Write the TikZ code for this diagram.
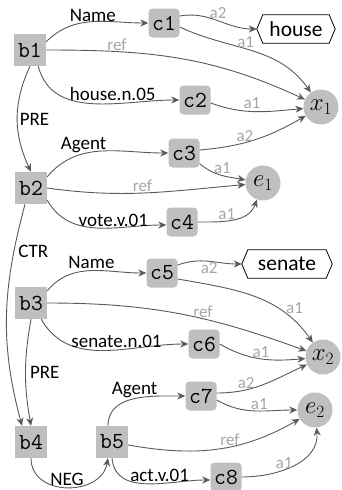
\documentclass[tikz,border=0pt]{standalone}
\usepackage{fontspec}
\setmainfont{Carlito}
\usetikzlibrary{arrows.meta}
\definecolor{boxgray}{HTML}{BFBFBF}
\definecolor{linegray}{HTML}{595959}
\definecolor{lblgray}{HTML}{A6A6A6}
\begin{document}
\begin{tikzpicture}[x=1pt,y=1pt,
  bbox/.style={fill=boxgray,minimum width=32pt,minimum height=32pt,inner sep=0pt,font=\fontsize{23}{23}\ttfamily},
  cbox/.style={fill=boxgray,rounded corners=4pt,minimum width=31pt,minimum height=29pt,inner sep=0pt,font=\fontsize{23}{23}\ttfamily},
  ent/.style={circle,fill=boxgray,minimum size=35pt,inner sep=0pt,font=\fontsize{25}{25}\selectfont},
  lit/.style={minimum width=66pt,minimum height=28pt,inner sep=0pt,font=\fontsize{21.5}{21.5}\selectfont},
  arr/.style={draw=linegray,line width=0.9pt,-{Stealth[length=8pt,width=7pt,inset=2.5pt]}},
  bl/.style={font=\fontsize{19}{19}\selectfont,text=black,inner sep=1pt},
  gl/.style={font=\fontsize{17}{17}\selectfont,text=lblgray,inner sep=1pt}
]
\useasboundingbox (0,0) rectangle (341,-490);
% nodes
\node[bbox] (b1) at (30,-50) {b1};
\node[bbox] (b2) at (31,-188) {b2};
\node[bbox] (b3) at (31,-303) {b3};
\node[bbox] (b4) at (31,-442) {b4};
\node[bbox] (b5) at (112,-442) {b5};
\node[cbox] (c1) at (164,-23) {c1};
\node[cbox] (c2) at (195,-100) {c2};
\node[cbox] (c3) at (184,-153) {c3};
\node[cbox] (c4) at (182,-222) {c4};
\node[cbox] (c5) at (162,-273) {c5};
\node[cbox] (c6) at (204,-344) {c6};
\node[cbox] (c7) at (201,-396) {c7};
\node[cbox] (c8) at (226,-477) {c8};
\node[ent] (x1) at (321,-107) {$x_1$};
\node[ent] (e1) at (263,-183) {$e_1$};
\node[ent] (x2) at (323,-357) {$x_2$};
\node[ent] (e2) at (315,-410) {$e_2$};
\node[lit] (house) at (296,-29) {house};
\node[lit,minimum width=78pt] (senate) at (287,-264) {senate};
\foreach \n in {house,senate}{
  \draw[black,line width=0.8pt] ([xshift=-6pt]\n.west) -- (\n.north west) -- (\n.north east) -- ([xshift=6pt]\n.east) -- (\n.south east) -- (\n.south west) -- cycle;
}
% b1
\draw[arr] ([yshift=-8pt]b1.north east) to[out=45,in=180] node[bl,pos=0.5,above=-1pt] {Name} (c1.west);
\draw[arr] (b1.east) to[out=0,in=155] node[gl,pos=0.25,above] {ref} (x1);
\draw[arr] ([xshift=-8pt]b1.south east) to[out=-75,in=180] node[bl,pos=0.62,above=2pt] {house.n.05} (c2.west);
\draw[arr] ([yshift=7pt]c1.east) to[out=10,in=180] node[gl,pos=0.5,above] {a2} ([xshift=-6pt]house.west);
\draw[arr] ([yshift=-4pt]c1.east) to[out=-25,in=125] node[gl,pos=0.45,above] {a1} (x1);
\draw[arr] ([yshift=-3pt]c2.east) to[out=-20,in=185] node[gl,pos=0.45,above=1pt] {a1} (x1);
\draw[arr] (b1.south) to[out=-115,in=115] node[bl,pos=0.5,right=1pt] {PRE} (b2.north);
% b2
\draw[arr] ([yshift=-5pt]b2.north east) to[out=50,in=180] node[bl,pos=0.35,above] {Agent} (c3.west);
\draw[arr] (b2.east) to[out=-8,in=185] node[gl,pos=0.48,above] {ref} (e1);
\draw[arr] ([yshift=4pt]b2.south east) to[out=-60,in=180] node[bl,pos=0.62,above=0pt] {vote.v.01} ([yshift=-3pt]c4.west);
\draw[arr] ([yshift=3pt]c3.east) to[out=5,in=210] node[gl,pos=0.4,above] {a2} (x1);
\draw[arr] ([yshift=4pt]c3.south east) to[out=-40,in=170] node[gl,pos=0.35,above right=-2pt] {a1} (e1);
\draw[arr] (c4.east) to[out=0,in=-110] node[gl,pos=0.4,above] {a1} (e1);
\draw[arr] ([xshift=-6pt]b2.south) to[out=-105,in=105] node[bl,pos=0.2,right=3pt] {CTR} ([xshift=-9pt]b4.north);
% b3
\draw[arr] ([yshift=-4pt]b3.north east) to[out=50,in=180] node[bl,pos=0.5,above] {Name} (c5.west);
\draw[arr] (b3.east) to[out=0,in=160] node[gl,pos=0.6,above] {ref} (x2);
\draw[arr] ([xshift=-6pt]b3.south east) to[out=-60,in=180] node[bl,pos=0.58,above=1pt] {senate.n.01} (c6.west);
\draw[arr] ([yshift=8pt]c5.east) to[out=20,in=180] node[gl,pos=0.5,below] {a2} ([xshift=-6pt]senate.west);
\draw[arr] ([yshift=-6pt]c5.east) to[out=-10,in=125] node[gl,pos=0.75,above right=-1pt] {a1} (x2);
\draw[arr] (c6.east) to[out=-30,in=185] node[gl,pos=0.5,above] {a1} (x2);
\draw[arr] (b3.south) to[out=-100,in=100] node[bl,pos=0.5,right=3pt] {PRE} (b4.north);
% b4,b5
\draw[arr] (b4.south) to[out=-90,in=-100,looseness=1.3] node[bl,pos=0.5,above] {NEG} ([xshift=-4pt]b5.south);
\draw[arr] ([xshift=-4pt]b5.north) to[out=90,in=180] node[bl,pos=0.5,above] {Agent} (c7.west);
\draw[arr] ([yshift=-3pt]b5.east) to[out=-10,in=-150] node[gl,pos=0.58,above] {ref} (e2);
\draw[arr] (b5.south) to[out=-85,in=180] node[bl,pos=0.6,above=1pt] {act.v.01} ([yshift=-3pt]c8.west);
\draw[arr] ([yshift=3pt]c7.east) to[out=0,in=-155] node[gl,pos=0.3,above] {a2} (x2);
\draw[arr] ([yshift=-4pt]c7.east) to[out=-30,in=180] node[gl,pos=0.55,above] {a1} (e2);
\draw[arr] (c8.east) to[out=0,in=-85] node[gl,pos=0.4,above] {a1} (e2);
\end{tikzpicture}
\end{document}
